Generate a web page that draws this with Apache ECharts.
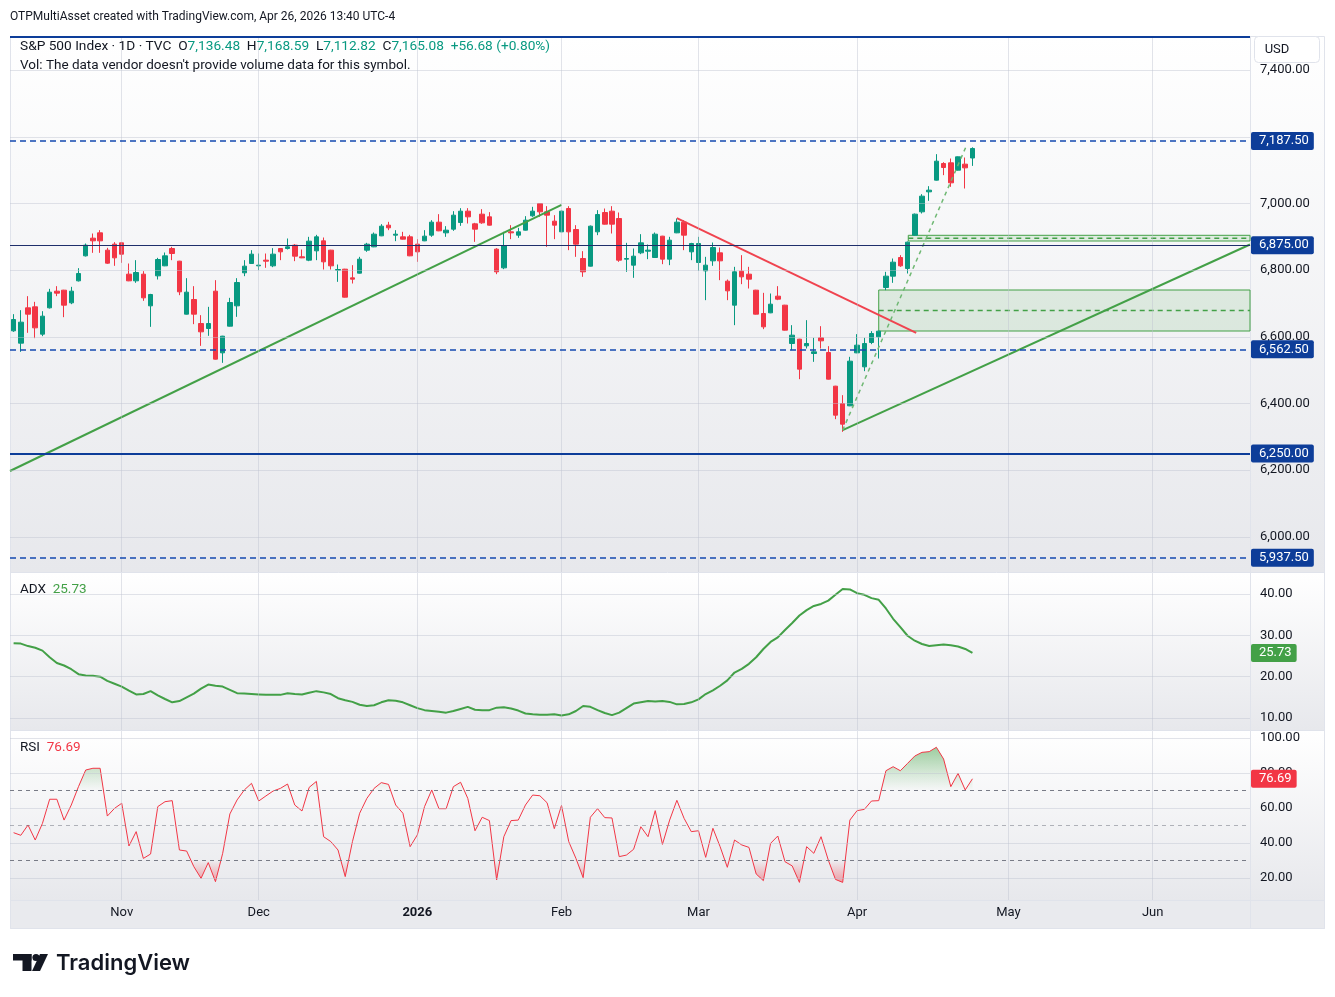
<!DOCTYPE html>
<html>
<head>
<meta charset="utf-8">
<title>S&amp;P 500 Index · 1D · TVC</title>
<script src="https://cdn.jsdelivr.net/npm/echarts@6.0.0/dist/echarts.min.js"></script>
<style>
  html, body { margin: 0; padding: 0; background: #fff; }
  #chart { width: 1335px; height: 997px; }
</style>
</head>
<body>
<div id="chart"></div>
<script>
// daily bars, [open, high, low, close], Oct 13 2025 .. Apr 24 2026
const ohlc = [
  [6618,6668,6615,6652],[6581,6680,6555,6644],[6687,6722,6612,6668],[6690,6705,6596,6627],[6608,6677,6602,6662],
  [6687,6744,6685,6734],[6737,6752,6722,6731],[6740,6741,6659,6695],[6702,6750,6698,6737],[6768,6806,6766,6790],
  [6843,6880,6841,6875],[6896,6910,6852,6888],[6912,6920,6852,6888],[6860,6867,6819,6821],[6878,6884,6813,6837],
  [6882,6884,6822,6848],[6788,6820,6767,6768],[6768,6830,6762,6793],[6788,6797,6708,6717],[6693,6729,6630,6727],
  [6783,6837,6772,6832],[6813,6853,6812,6843],[6865,6870,6830,6850],[6827,6828,6725,6735],[6668,6776,6667,6734],
  [6712,6752,6638,6668],[6640,6665,6573,6615],[6625,6690,6603,6640],[6737,6770,6532,6533],[6552,6603,6522,6602],
  [6632,6717,6631,6703],[6693,6776,6660,6763],[6792,6830,6782,6812],[6820,6860,6819,6848],[6813,6850,6800,6815],
  [6830,6850,6807,6827],[6813,6866,6809,6848],[6865,6866,6830,6855],[6865,6895,6862,6870],[6875,6878,6827,6842],
  [6840,6862,6836,6837],[6830,6900,6827,6887],[6858,6906,6830,6900],[6888,6898,6802,6825],[6860,6861,6802,6813],
  [6800,6817,6765,6802],[6803,6804,6718,6719],[6777,6815,6760,6773],[6791,6840,6790,6833],[6860,6882,6855,6878],
  [6870,6913,6869,6908],[6903,6938,6902,6932],[6935,6945,6920,6927],[6905,6920,6887,6908],[6900,6915,6892,6893],
  [6900,6906,6842,6843],[6878,6893,6825,6855],[6888,6920,6887,6902],[6905,6950,6900,6944],[6944,6968,6917,6918],
  [6912,6932,6900,6920],[6923,6977,6918,6965],[6943,6986,6933,6977],[6977,6986,6940,6960],[6939,6942,6885,6923],
  [6968,6983,6939,6942],[6960,6974,6934,6935],[6863,6866,6788,6795],[6807,6915,6803,6873],[6915,6935,6893,6912],
  [6905,6927,6897,6915],[6920,6962,6919,6950],[6963,6990,6960,6977],[7000,7001,6960,6975],[6975,6992,6870,6965],
  [6947,6965,6893,6935],[6915,6979,6914,6977],[6985,6992,6860,6915],[6922,6935,6840,6878],[6835,6857,6780,6795],
  [6812,6934,6811,6932],[6915,6980,6905,6967],[6973,6985,6937,6938],[6977,6992,6910,6938],[6955,6973,6825,6830],
  [6833,6882,6795,6835],[6815,6865,6777,6842],[6852,6908,6848,6882],[6857,6877,6833,6860],[6838,6913,6837,6908],
  [6902,6903,6818,6833],[6833,6900,6815,6890],[6912,6955,6911,6944],[6944,6950,6860,6905],[6855,6882,6830,6880],
  [6823,6900,6798,6880],[6798,6840,6710,6815],[6828,6883,6813,6868],[6852,6868,6770,6828],[6767,6772,6710,6738],
  [6695,6810,6635,6795],[6797,6845,6758,6780],[6788,6810,6745,6773],[6740,6741,6667,6668],[6670,6732,6623,6630],
  [6672,6730,6671,6698],[6722,6752,6710,6713],[6695,6696,6619,6620],[6580,6635,6560,6605],[6593,6594,6473,6503],
  [6573,6650,6565,6580],[6550,6597,6525,6555],[6597,6632,6565,6588],[6553,6572,6472,6473],[6452,6453,6353,6365],
  [6400,6425,6315,6338],[6393,6540,6392,6527],[6552,6608,6551,6575],[6510,6597,6497,6580],[6583,6617,6578,6610],
  [6600,6618,6535,6617],[6748,6795,6740,6782],[6782,6835,6762,6824],[6838,6845,6810,6813],[6805,6886,6790,6884],
  [6905,6970,6904,6968],[6975,7028,6970,7022],[7035,7052,7008,7040],[7070,7148,7069,7127],[7120,7124,7085,7108],
  [7122,7135,7050,7062],[7100,7141,7099,7140],[7118,7138,7045,7107],[7136.48,7168.59,7112.82,7165.08]
];

const adx = [
  28.1,28.0,27.4,27.0,26.3,24.7,23.3,22.7,21.8,20.6,
  20.3,20.2,20.0,19.0,18.3,17.6,16.6,15.7,15.8,16.5,
  15.5,14.6,13.8,14.1,15.0,15.9,17.1,18.1,17.8,17.6,
  16.8,16.0,15.9,15.8,15.7,15.6,15.6,15.6,16.0,15.8,
  15.7,16.1,16.5,16.2,15.8,14.8,14.3,13.9,13.2,12.9,
  13.1,13.8,14.3,14.2,13.8,13.1,12.4,11.9,11.7,11.5,
  11.3,11.7,12.2,12.7,12.0,11.9,11.9,12.5,12.6,12.3,
  11.8,11.1,10.9,10.8,10.8,10.9,10.6,10.9,11.7,12.9,
  12.7,11.9,11.2,10.7,11.3,12.4,13.5,13.8,14.1,14.0,
  14.1,13.9,13.3,13.4,13.8,14.5,15.8,16.7,17.8,19.1,
  21.0,21.9,23.1,24.7,26.7,28.4,29.5,31.3,33.0,34.8,
  36.1,37.1,37.6,38.4,39.8,41.2,41.1,40.2,39.8,39.0,
  38.6,36.5,34.0,32.0,29.9,28.7,27.9,27.4,27.6,27.8,
  27.6,27.3,26.7,25.73
];

const rsi = [
  45.9,44.4,50.3,41.7,51.2,65.0,65.0,53.1,61.7,72.2,
  81.7,82.7,82.7,55.4,59.8,62.7,38.3,46.5,31.2,33.7,
  60.8,63.6,64.2,36.0,35.4,26.5,19.8,28.8,17.9,34.1,
  56.6,64.6,70.3,74.1,64.0,66.9,69.7,71.2,73.7,61.7,
  58.3,71.8,75.2,43.6,40.8,36.0,20.8,40.8,57.0,65.5,
  71.2,74.5,73.5,61.7,57.0,37.9,44.6,60.8,70.3,59.6,
  59.6,72.2,74.7,65.5,47.0,54.7,52.8,18.9,43.6,52.8,
  53.1,61.7,67.4,67.0,63.0,48.2,61.5,40.8,31.2,20.2,
  54.7,59.6,54.5,54.3,32.2,33.1,36.4,49.3,43.6,58.5,
  39.2,53.1,64.4,54.1,46.5,47.0,31.8,48.4,37.9,26.1,
  41.7,38.9,37.5,22.3,18.5,39.8,44.0,29.3,26.9,17.5,
  37.9,34.1,43.6,30.3,19.2,17.5,53.1,58.5,59.2,64.0,
  64.2,81.3,83.6,81.3,85.5,89.7,91.8,92.2,94.7,88.0,
  72.2,79.8,70.3,76.69
];

// time scale: bar slots incl. empty future space, month marks on bar index
const SLOTS = 172;
const monthTicks = [15, 34, 56, 76, 95, 117, 138, 158];
const monthLabels = ['Nov', 'Dec', '2026', 'Feb', 'Mar', 'Apr', 'May', 'Jun'];

const priceGrid = [6000, 6200, 6400, 6600, 6800, 7000, 7200, 7400];
const priceLabels = [6000, 6200, 6400, 6600, 6800, 7000, 7400];
const adxTicks = [10, 20, 30, 40];
const rsiTicks = [20, 40, 60, 80, 100];
const rsiBands = [70, 50, 30];

// drawings: horizontal levels and trend lines ([bar, price])
const levelTop = 7500;
const levelsDashed = [7187.5, 6562.5, 5937.5];
const levelThin = 6875;
const levelThick = 6250;
const trendUp1 = [[-0.5, 6197.5], [76, 6996]];
const trendDown = [[92, 6956], [125.2, 6612]];
const trendUp2 = [[115, 6320], [171.5, 6877]];
const trendSteep = [[115, 6320], [132.1, 7170]];
const gapBoxes = [[120, 6740.5, 6617.5], [124.1, 6904.6, 6887.5]]; // start bar, top, bottom

const FONT = "Roboto, 'Noto Sans', sans-serif";
const TXT = '#131722';
const UP = '#089981', DOWN = '#f23645';
const GREEN = '#43a047';
const NAVY = '#0d3d99';
const GRIDC = 'rgba(190,195,208,0.45)';

const fmt2 = v => Number(v).toLocaleString('en-US', { minimumFractionDigits: 2, maximumFractionDigits: 2 });
const cats = Array.from({ length: SLOTS }, (_, i) => String(i));

const badge = bg => ({
  show: true, position: 'end', distance: 1,
  formatter: p => fmt2(p.value),
  color: '#fff', backgroundColor: bg, padding: [3, 5, 2, 8],
  fontSize: 13, fontFamily: FONT, borderRadius: 2
});

const gridHelper = (xi, yi, yVals) => ({
  type: 'line', xAxisIndex: xi, yAxisIndex: yi, data: [], z: 1, silent: true,
  markLine: {
    silent: true, symbol: 'none', animation: false, label: { show: false },
    lineStyle: { color: GRIDC, width: 1, type: 'solid' },
    data: monthTicks.map(i => ({ xAxis: i })).concat(yVals.map(v => ({ yAxis: v })))
  }
});

const trend = (pts, color, width, type) => ({
  type: 'line', xAxisIndex: 3, yAxisIndex: 0, data: pts, symbol: 'none', silent: true, z: 4,
  lineStyle: { color: color, width: width, type: type || 'solid' }
});

const paneFill = () => new echarts.graphic.LinearGradient(0, 0, 0, 1, [
  { offset: 0, color: '#ffffff' }, { offset: 1, color: '#e7e8ec' }
]);

const chart = echarts.init(document.getElementById('chart'));

const series = [];
series.push(gridHelper(3, 0, priceGrid));
series.push({
  name: 'S&P 500', type: 'candlestick', xAxisIndex: 0, yAxisIndex: 0, z: 3,
  barWidth: 5,
  data: ohlc.map(d => [d[0], d[3], d[2], d[1]]),
  itemStyle: { color: UP, color0: DOWN, borderColor: UP, borderColor0: DOWN, borderWidth: 1 },
  markLine: {
    silent: true, symbol: 'none', animation: false,
    data: [
      { yAxis: levelTop, lineStyle: { color: NAVY, width: 2, type: 'solid' }, label: { show: false } },
      { yAxis: levelThin, lineStyle: { color: '#1f2f6b', width: 1, type: 'solid' }, label: badge(NAVY) },
      { yAxis: levelThick, lineStyle: { color: NAVY, width: 2, type: 'solid' }, label: badge(NAVY) }
    ].concat(levelsDashed.map(v => ({
      yAxis: v, lineStyle: { color: '#1449b0', width: 1.5, type: [6, 4] }, label: badge(NAVY)
    })))
  }
});
series.push({
  type: 'line', xAxisIndex: 3, yAxisIndex: 0, data: [], z: 2, silent: true,
  markArea: {
    silent: true,
    itemStyle: { color: 'rgba(67,160,71,0.13)', borderColor: GREEN, borderWidth: 1 },
    data: gapBoxes.map(b => [{ coord: [b[0], b[1]] }, { coord: [SLOTS - 0.5, b[2]] }])
  }
});
gapBoxes.forEach(b => {
  const mid = (b[1] + b[2]) / 2;
  series.push(trend([[b[0], mid], [SLOTS - 0.5, mid]], GREEN, 1.5, [5, 4]));
});
series.push(trend(trendUp1, GREEN, 2));
series.push(trend(trendUp2, GREEN, 2));
series.push(trend(trendDown, '#f0434f', 2));
series.push(trend(trendSteep, '#6fb873', 1.5, [4, 4]));

// ADX pane
series.push(gridHelper(4, 1, adxTicks));
series.push({
  name: 'ADX', type: 'line', xAxisIndex: 1, yAxisIndex: 1, data: adx, symbol: 'none', z: 3,
  lineStyle: { color: GREEN, width: 2 },
  markLine: {
    silent: true, symbol: 'none', animation: false,
    data: [{ yAxis: adx[adx.length - 1], lineStyle: { color: 'rgba(0,0,0,0)', width: 0 }, label: badge(GREEN) }]
  }
});

// RSI pane
series.push(gridHelper(5, 2, rsiTicks));
series.push({
  type: 'line', xAxisIndex: 5, yAxisIndex: 2, data: [], z: 2, silent: true,
  markLine: {
    silent: true, symbol: 'none', animation: false, label: { show: false },
    data: rsiBands.map(v => ({
      yAxis: v,
      lineStyle: { color: v === 50 ? 'rgba(120,123,134,0.55)' : '#787b86', width: 1, type: [4, 4] }
    }))
  }
});
const hiIdx = series.length;
series.push({
  type: 'line', xAxisIndex: 2, yAxisIndex: 2, data: rsi, symbol: 'none', silent: true, z: 2,
  lineStyle: { opacity: 0 }, areaStyle: { origin: 70, opacity: 1 }
});
const loIdx = series.length;
series.push({
  type: 'line', xAxisIndex: 2, yAxisIndex: 2, data: rsi, symbol: 'none', silent: true, z: 2,
  lineStyle: { opacity: 0 }, areaStyle: { origin: 30, opacity: 1 }
});
series.push({
  name: 'RSI', type: 'line', xAxisIndex: 2, yAxisIndex: 2, data: rsi, symbol: 'none', z: 3,
  lineStyle: { color: DOWN, width: 1 },
  markLine: {
    silent: true, symbol: 'none', animation: false,
    data: [{ yAxis: rsi[rsi.length - 1], lineStyle: { color: 'rgba(0,0,0,0)', width: 0 }, label: badge(DOWN) }]
  }
});

const hiddenCat = gi => ({ type: 'category', gridIndex: gi, data: cats, show: false });
const overlayX = gi => ({ type: 'value', gridIndex: gi, min: -0.5, max: SLOTS - 0.5, show: false });
const rightY = (gi, min, max, ticks) => ({
  type: 'value', gridIndex: gi, position: 'right', min: min, max: max,
  axisLine: { show: false }, axisTick: { show: false }, splitLine: { show: false },
  axisLabel: { customValues: ticks, formatter: fmt2, color: TXT, fontSize: 13, fontFamily: FONT, margin: 10 }
});

const clear = c => 'rgba(' + c + ',0)';
const option = {
  animation: false,
  backgroundColor: '#ffffff',
  grid: [
    { left: 10, right: 85, top: 36, height: 536, outerBoundsMode: 'none' },
    { left: 10, right: 85, top: 573, height: 157, outerBoundsMode: 'none' },
    { left: 10, right: 85, top: 731, height: 169, outerBoundsMode: 'none' }
  ],
  xAxis: [
    hiddenCat(0),
    hiddenCat(1),
    {
      type: 'category', gridIndex: 2, data: cats,
      axisLine: { show: false }, axisTick: { show: false }, splitLine: { show: false },
      axisLabel: {
        interval: idx => monthTicks.indexOf(idx) >= 0,
        formatter: (val, idx) => {
          const s = monthLabels[monthTicks.indexOf(idx)];
          return s === '2026' ? '{b|2026}' : s;
        },
        rich: { b: { fontWeight: 'bold', fontSize: 13, fontFamily: FONT, color: TXT } },
        color: TXT, fontSize: 13, fontFamily: FONT, margin: 6
      }
    },
    overlayX(0), overlayX(1), overlayX(2)
  ],
  yAxis: [
    rightY(0, 5894.5, 7502.5, priceLabels),
    rightY(1, 7.1, 45.08, adxTicks),
    rightY(2, 7.43, 104, rsiTicks)
  ],
  // colour stops every 10 RSI points, 0 .. 100
  visualMap: [
    {
      type: 'continuous', show: false, seriesIndex: hiIdx, dimension: 1, min: 0, max: 100,
      inRange: { color: [
        clear('67,160,71'), clear('67,160,71'), clear('67,160,71'), clear('67,160,71'),
        clear('67,160,71'), clear('67,160,71'), clear('67,160,71'), clear('67,160,71'),
        'rgba(67,160,71,0.2)', 'rgba(67,160,71,0.42)', 'rgba(67,160,71,0.62)'
      ] }
    },
    {
      type: 'continuous', show: false, seriesIndex: loIdx, dimension: 1, min: 0, max: 100,
      inRange: { color: [
        'rgba(242,54,69,0.75)', 'rgba(242,54,69,0.6)', 'rgba(242,54,69,0.35)', clear('242,54,69'),
        clear('242,54,69'), clear('242,54,69'), clear('242,54,69'), clear('242,54,69'),
        clear('242,54,69'), clear('242,54,69'), clear('242,54,69')
      ] }
    }
  ],
  graphic: [
    { type: 'rect', z: -10, shape: { x: 10, y: 36, width: 1315, height: 536 }, style: { fill: paneFill() } },
    { type: 'rect', z: -10, shape: { x: 10, y: 573, width: 1315, height: 157 }, style: { fill: paneFill() } },
    { type: 'rect', z: -10, shape: { x: 10, y: 731, width: 1315, height: 169 }, style: { fill: paneFill() } },
    { type: 'rect', z: -10, shape: { x: 10, y: 900, width: 1315, height: 29 }, style: { fill: '#e9eaee' } },
    { type: 'rect', z: -5, shape: { x: 10.5, y: 36.5, width: 1314, height: 892 }, style: { fill: null, stroke: '#e0e3eb', lineWidth: 1 } },
    { type: 'line', z: -5, shape: { x1: 10, y1: 572.5, x2: 1325, y2: 572.5 }, style: { stroke: '#e0e3eb', lineWidth: 1 } },
    { type: 'line', z: -5, shape: { x1: 10, y1: 730.5, x2: 1325, y2: 730.5 }, style: { stroke: '#e0e3eb', lineWidth: 1 } },
    { type: 'line', z: -5, shape: { x1: 10, y1: 900.5, x2: 1325, y2: 900.5 }, style: { stroke: '#e0e3eb', lineWidth: 1 } },
    { type: 'line', z: -5, shape: { x1: 1250.5, y1: 36, x2: 1250.5, y2: 929 }, style: { stroke: '#e0e3eb', lineWidth: 1 } },

    { type: 'text', z: 60, x: 10, y: 17, style: { text: 'OTPMultiAsset created with TradingView.com, Apr 26, 2026 13:40 UTC-4', font: '12px ' + FONT, fill: TXT, verticalAlign: 'middle' } },
    {
      type: 'text', z: 60, x: 20, y: 47,
      style: {
        text: '{d|S&P 500 Index · 1D · TVC}  {d|O}{g|7,136.48}  {d|H}{g|7,168.59}  {d|L}{g|7,112.82}  {d|C}{g|7,165.08}  {g|+56.68 (+0.80%)}',
        font: '13.7px ' + FONT, fill: TXT, verticalAlign: 'middle',
        rich: { d: { fill: TXT }, g: { fill: UP } }
      }
    },
    { type: 'text', z: 60, x: 20, y: 66, style: { text: "Vol: The data vendor doesn't provide volume data for this symbol.", font: '13.5px ' + FONT, fill: TXT, verticalAlign: 'middle' } },
    {
      type: 'text', z: 60, x: 20, y: 590,
      style: { text: '{d|ADX}  {g|25.73}', font: '13.5px ' + FONT, fill: TXT, verticalAlign: 'middle', rich: { d: { fill: TXT }, g: { fill: GREEN } } }
    },
    {
      type: 'text', z: 60, x: 20, y: 748,
      style: { text: '{d|RSI}  {r|76.69}', font: '13.5px ' + FONT, fill: TXT, verticalAlign: 'middle', rich: { d: { fill: TXT }, r: { fill: DOWN } } }
    },

    { type: 'rect', z: 60, shape: { x: 1254.5, y: 36.5, width: 65, height: 26, r: 4 }, style: { fill: '#ffffff', stroke: '#e0e3eb', lineWidth: 1 } },
    { type: 'text', z: 61, x: 1277, y: 49.5, style: { text: 'USD', font: '13px ' + FONT, fill: TXT, align: 'center', verticalAlign: 'middle' } },

    { type: 'rect', z: 60, shape: { x: 13, y: 954, width: 18.5, height: 6.5 }, style: { fill: TXT } },
    { type: 'rect', z: 60, shape: { x: 22.5, y: 954, width: 9, height: 17 }, style: { fill: TXT } },
    { type: 'circle', z: 60, shape: { cx: 36, cy: 957.5, r: 3.6 }, style: { fill: TXT } },
    { type: 'polygon', z: 60, shape: { points: [[40, 954], [48, 954], [40, 971], [32, 971]] }, style: { fill: TXT } },
    { type: 'text', z: 60, x: 56, y: 963, style: { text: 'TradingView', font: '600 22px Inter, ' + FONT, fill: TXT, verticalAlign: 'middle' } }
  ],
  series: series
};

chart.setOption(option);
</script>
</body>
</html>
